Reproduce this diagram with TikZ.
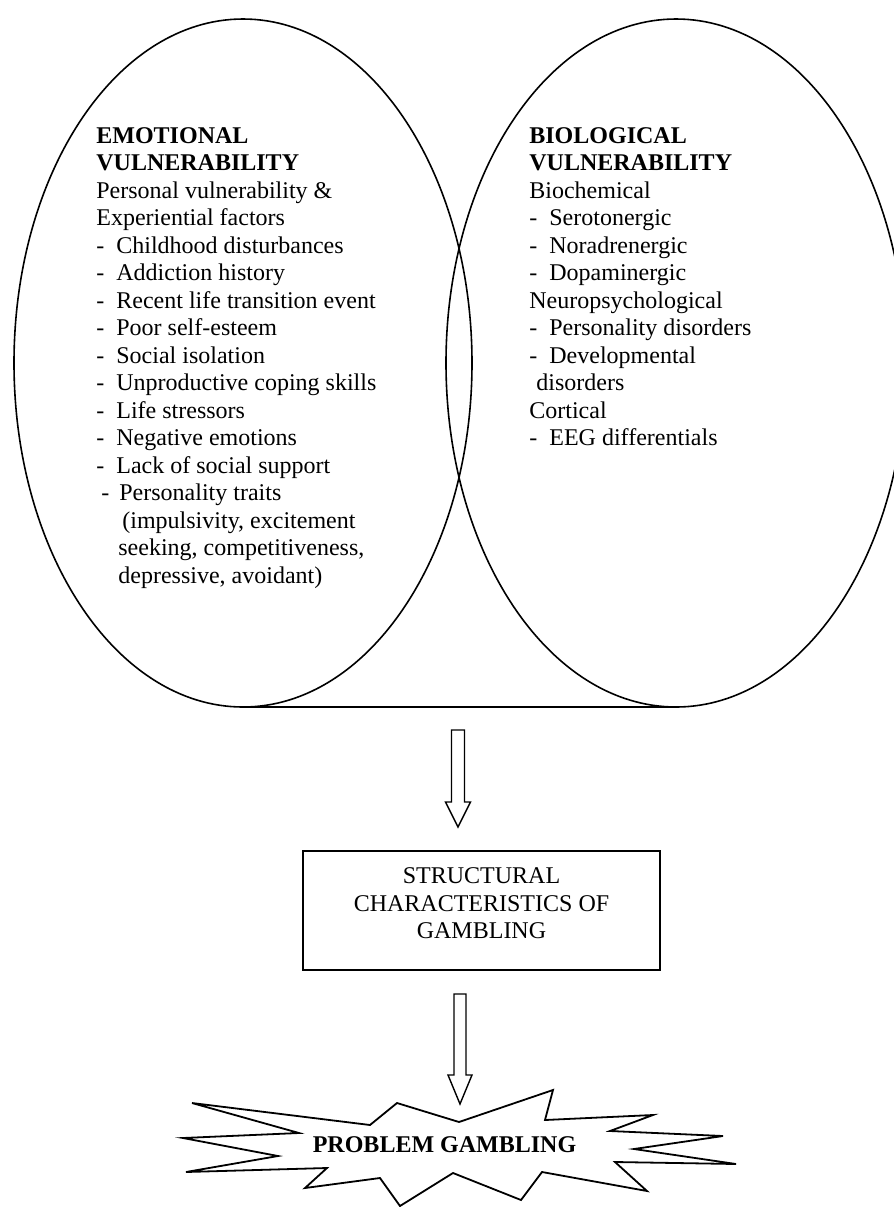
\documentclass[tikz,border=0pt]{standalone}
\usepackage{fontspec}
\setmainfont{Liberation Serif}
\usetikzlibrary{shapes.geometric,calc}
\tikzset{
  oval/.style={ellipse, draw, line width=0.8pt, inner sep=0pt, outer sep=0pt},
  bodytext/.style={anchor=north west, inner sep=0pt, align=left, font=\fontsize{12pt}{13.75pt}\selectfont},
  boxnode/.style={draw, line width=0.8pt, inner sep=0pt, minimum width=178.5pt, minimum height=59.5pt},
  boxtext/.style={inner sep=0pt, align=center, font=\fontsize{12pt}{13.75pt}\selectfont},
  hollow/.style={draw, line width=0.7pt, line join=miter},
  starline/.style={draw, line width=0.9pt, line join=miter},
}
\newcommand{\dsh}{\makebox[10pt][l]{-}}
\begin{document}
\begin{tikzpicture}[x=0.5pt,y=-0.5pt]
\useasboundingbox (0,0) rectangle (894,1207);
% ellipses
\node[oval, minimum width=229pt, minimum height=344pt] (L) at (243,363) {};
\node[oval, minimum width=230pt, minimum height=344pt] (R) at (676,363) {};
\draw[line width=0.8pt] (L.south) -- (R.south);
% texts
\node[bodytext] (Ltext) at (96,127) {\textbf{EMOTIONAL}\\
\textbf{VULNERABILITY}\\
Personal vulnerability \&\\
Experiential factors\\
\dsh Childhood disturbances\\
\dsh Addiction history\\
\dsh Recent life transition event\\
\dsh Poor self-esteem\\
\dsh Social isolation\\
\dsh Unproductive coping skills\\
\dsh Life stressors\\
\dsh Negative emotions\\
\dsh Lack of social support\\
\hspace*{2.5pt}\makebox[9pt][l]{-}Personality traits\\
\hspace*{13pt}(impulsivity, excitement\\
\hspace*{11pt}seeking, competitiveness,\\
\hspace*{11pt}depressive, avoidant)};
\node[bodytext] (Rtext) at (529,127) {\textbf{BIOLOGICAL}\\
\textbf{VULNERABILITY}\\
Biochemical\\
\dsh Serotonergic\\
\dsh Noradrenergic\\
\dsh Dopaminergic\\
Neuropsychological\\
\dsh Personality disorders\\
\dsh Developmental\\
\hspace*{3.5pt}disorders\\
Cortical\\
\dsh EEG differentials};
% box
\node[boxnode] (box) at (481.5,910.5) {};
\node[boxtext] (boxlabel) at (481.5,903.5) {STRUCTURAL\\CHARACTERISTICS OF\\GAMBLING};
% arrow 1
\coordinate (a1top) at (458,730);
\coordinate (a1tip) at (458,827);
\draw[hollow] ($(a1top)+(-6.5,0)$) -- ($(a1top)+(6.5,0)$) -- ($(a1tip)+(6.5,-25)$) -- ($(a1tip)+(12.5,-25)$) -- (a1tip) -- ($(a1tip)+(-12.5,-25)$) -- ($(a1tip)+(-6.5,-25)$) -- cycle;
% arrow 2
\coordinate (a2top) at (460,994);
\coordinate (a2tip) at (460,1104);
\draw[hollow] ($(a2top)+(-6,0)$) -- ($(a2top)+(6,0)$) -- ($(a2tip)+(6,-29)$) -- ($(a2tip)+(12,-29)$) -- (a2tip) -- ($(a2tip)+(-12,-29)$) -- ($(a2tip)+(-6,-29)$) -- cycle;
% star
\draw[starline] (192,1103) -- (370,1125) -- (397,1103) -- (459,1122) -- (553,1090) -- (545,1120) -- (653,1115) -- (610,1131) -- (723,1136) -- (634,1149) -- (736,1164) -- (615,1162) -- (647,1191) -- (542,1172) -- (521,1200) -- (453,1173) -- (400,1206) -- (380,1178) -- (305,1188) -- (327,1168) -- (186,1172) -- (278,1156) -- (183,1138) -- (299,1133) -- cycle;
\node[inner sep=0pt, font=\fontsize{12pt}{13.75pt}\selectfont\bfseries] (pg) at (444.5,1145) {PROBLEM GAMBLING};
\end{tikzpicture}
\end{document}
